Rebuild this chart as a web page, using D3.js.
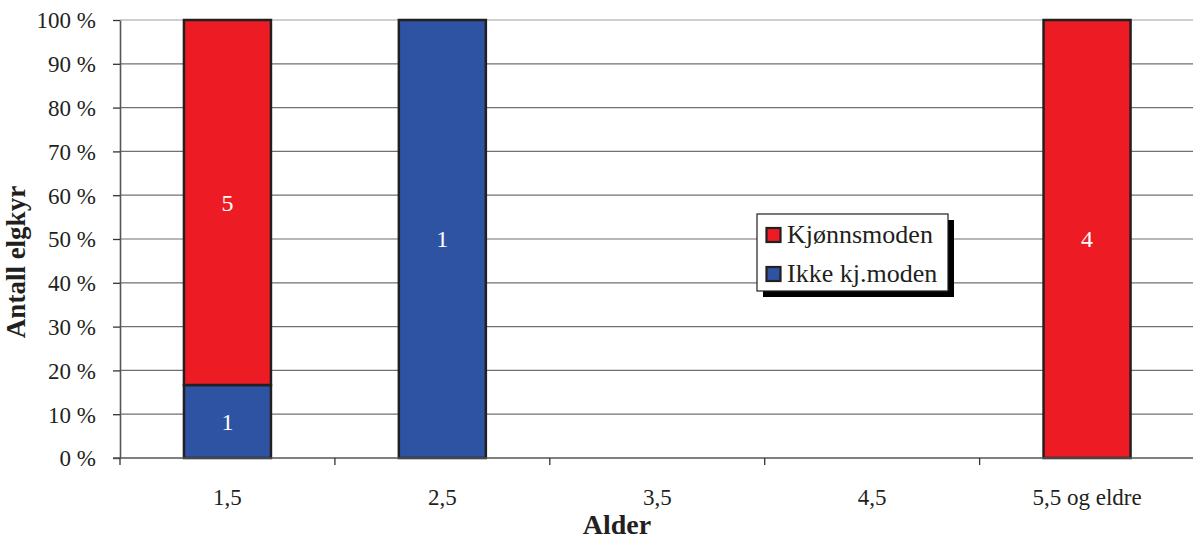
<!DOCTYPE html>
<html><head><meta charset="utf-8">
<script src="https://cdn.jsdelivr.net/npm/d3@7"></script>
<style>body{margin:0;background:#fff;} svg{display:block;}</style>
</head><body>
<svg id="c" width="1193" height="539"></svg>
<script>
const categories = ["1,5", "2,5", "3,5", "4,5", "5,5 og eldre"];
const seriesNames = ["Ikke kj.moden", "Kjønnsmoden"];
const ikkeKjModen = [1, 1, 0, 0, 0];
const kjonnsmoden = [5, 0, 0, 0, 4];
const yTicks = [0, 10, 20, 30, 40, 50, 60, 70, 80, 90, 100];
const colors = {"Kjønnsmoden": "#ED1C24", "Ikke kj.moden": "#2F53A3"};

const svg = d3.select("#c");
const font = "'Liberation Serif', 'Times New Roman', serif";
const m = {l: 120, r: 1194.5, t: 20, b: 458};

const x = d3.scaleBand().domain(categories).range([m.l, m.r]).paddingInner(0).paddingOuter(0);
const y = d3.scaleLinear().domain([0, 100]).range([m.b, m.t]);

const rows = categories.map((c, i) => ({cat: c, "Ikke kj.moden": ikkeKjModen[i], "Kjønnsmoden": kjonnsmoden[i]}));
const stack = d3.stack().keys(seriesNames).offset(d3.stackOffsetExpand);
const series = stack(rows);

// gridlines
svg.append("g").selectAll("line").data(yTicks.filter(t => t > 0)).join("line")
  .attr("x1", m.l).attr("x2", m.r).attr("y1", d => y(d)).attr("y2", d => y(d))
  .attr("stroke", d => d === 100 ? "#a0a0a0" : "#707070").attr("stroke-width", 1.2);

// y axis
const yAxis = d3.axisLeft(y).tickValues(yTicks).tickFormat(d => d + " %").tickSize(7).tickSizeOuter(0);
const gy = svg.append("g").attr("transform", `translate(${m.l},0)`).call(yAxis);
gy.select(".domain").attr("stroke", "#555").attr("stroke-width", 1.6);
gy.selectAll(".tick line").attr("stroke", "#333").attr("stroke-width", 1.3);
gy.selectAll(".tick text").attr("font-family", font).attr("font-size", 23).attr("fill", "#231F20").attr("x", -24).attr("dy", "0.34em");

// bars
const barW = 87;
svg.append("g").selectAll("g").data(series).join("g")
  .attr("fill", d => colors[d.key])
  .selectAll("rect").data(d => d.filter(p => p[1] - p[0] > 0)).join("rect")
  .attr("x", d => x(d.data.cat) + (x.bandwidth() - barW) / 2)
  .attr("width", barW)
  .attr("y", d => y(d[1] * 100))
  .attr("height", d => y(d[0] * 100) - y(d[1] * 100))
  .attr("stroke", "#231F20").attr("stroke-width", 2.5);

// bar labels
series.forEach(s => {
  s.forEach(p => {
    if (p[1] - p[0] > 0) {
      svg.append("text")
        .attr("x", x(p.data.cat) + x.bandwidth() / 2)
        .attr("y", y((p[0] + p[1]) / 2 * 100))
        .attr("dy", "0.34em")
        .attr("text-anchor", "middle")
        .attr("font-family", font).attr("font-size", 24).attr("fill", "#fff")
        .text(p.data[s.key]);
    }
  });
});

// x axis
const xAxis = d3.axisBottom(x).tickSize(0).tickSizeOuter(0);
const gx = svg.append("g").attr("transform", `translate(0,${m.b})`).call(xAxis);
gx.select(".domain").attr("stroke", "#555").attr("stroke-width", 1.6).attr("d", `M${m.l - 7},0H${m.r}`);
gx.selectAll(".tick text").attr("font-family", font).attr("font-size", 23).attr("fill", "#231F20").attr("y", 47).attr("dy", 0);
// category separators
svg.append("g").selectAll("line").data(categories.slice(1)).join("line")
  .attr("x1", d => x(d)).attr("x2", d => x(d)).attr("y1", m.b).attr("y2", m.b + 7)
  .attr("stroke", "#333").attr("stroke-width", 1.3);
svg.append("line").attr("x1", m.l).attr("x2", m.l).attr("y1", m.b).attr("y2", m.b + 7).attr("stroke", "#333").attr("stroke-width", 1.3);

// axis titles
svg.append("text").attr("x", 617).attr("y", 534)
  .attr("text-anchor", "middle").attr("font-family", font).attr("font-weight", "bold").attr("font-size", 28).attr("fill", "#231F20").text("Alder");
svg.append("text").attr("transform", `translate(25,262) rotate(-90)`)
  .attr("text-anchor", "middle").attr("font-family", font).attr("font-weight", "bold").attr("font-size", 27).attr("fill", "#231F20").text("Antall elgkyr");

// legend
const lg = svg.append("g").attr("transform", "translate(757,214)");
lg.append("rect").attr("x", 6).attr("y", 6).attr("width", 191).attr("height", 77).attr("fill", "#000");
lg.append("rect").attr("x", 0).attr("y", 0).attr("width", 191).attr("height", 77).attr("fill", "#fff").attr("stroke", "#231F20").attr("stroke-width", 1.2);
const legendKeys = ["Kjønnsmoden", "Ikke kj.moden"];
legendKeys.forEach((k, i) => {
  const base = 29 + i * 39;
  lg.append("rect").attr("x", 9.5).attr("y", base - 15).attr("width", 14).attr("height", 14)
    .attr("fill", colors[k]).attr("stroke", "#231F20").attr("stroke-width", 2.2);
  lg.append("text").attr("x", 30).attr("y", base)
    .attr("font-family", font).attr("font-size", 26).attr("fill", "#231F20").text(k);
});
</script>
</body></html>
